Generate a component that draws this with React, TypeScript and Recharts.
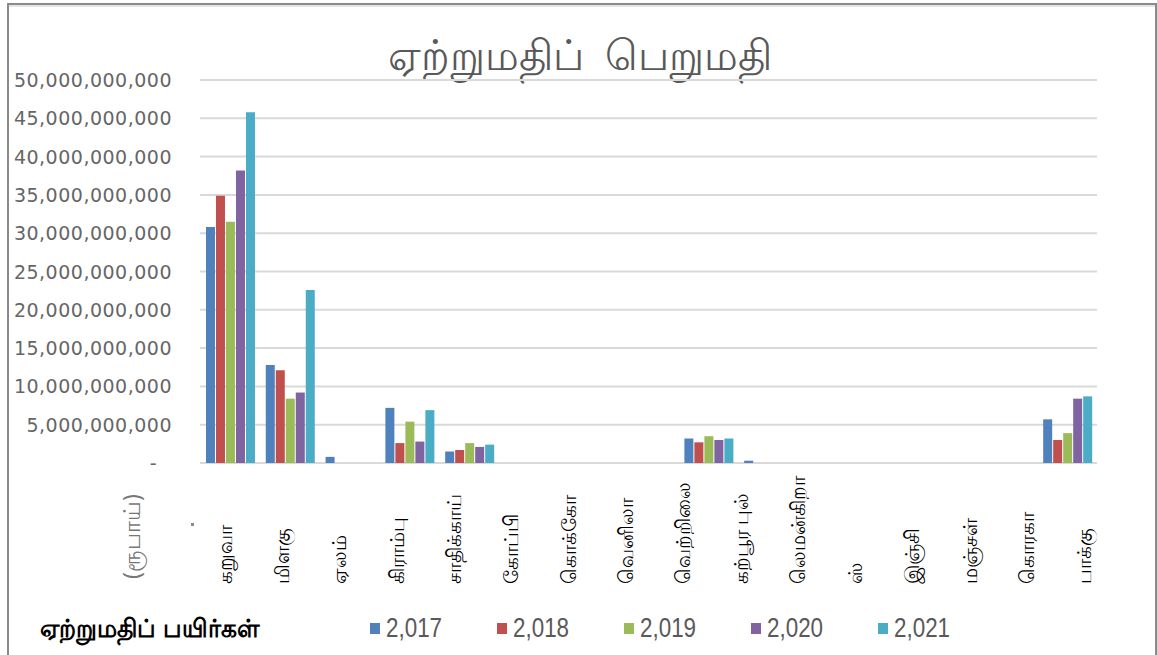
import React from 'react'
import { BarChart, Bar, XAxis, YAxis, CartesianGrid } from 'recharts'

// crops that carry the bars
const crops = [
  'கறுவா',
  'மிளகு',
  'ஏலம்',
  'கிராம்பு',
  'சாதிக்காய்',
  'கோப்பி',
  'கொக்கோ',
  'வெனிலா',
  'வெற்றிலை',
  'கற்பூர  புல்',
  'லெமன்கிறாஸ்',
  'இஞ்சி',
  'மஞ்சள்',
  'கொரகா',
  'பாக்கு',
]

// labels as printed under the axis (the last part of lemongrass got its own slot)
const axisLabels = [
  'கறுவா',
  'மிளகு',
  'ஏலம்',
  'கிராம்பு',
  'சாதிக்காய்',
  'கோப்பி',
  'கொக்கோ',
  'வெனிலா',
  'வெற்றிலை',
  'கற்பூர  புல்',
  'லெமன்கிறா',
  'ஸ்',
  'இஞ்சி',
  'மஞ்சள்',
  'கொரகா',
  'பாக்கு',
]

const years = ['2,017', '2,018', '2,019', '2,020', '2,021']
const colors = ['#4F81BD', '#C0504D', '#9BBB59', '#8064A2', '#4BACC6']

// values in rupees
const y2017 = [30.8e9, 12.8e9, 0.8e9, 7.2e9, 1.5e9, 0, 0, 0, 3.2e9, 0.3e9, 0, 0, 0, 0, 5.7e9]
const y2018 = [34.9e9, 12.1e9, 0, 2.6e9, 1.7e9, 0, 0, 0, 2.7e9, 0, 0, 0, 0, 0, 3.0e9]
const y2019 = [31.5e9, 8.4e9, 0, 5.4e9, 2.6e9, 0, 0, 0, 3.5e9, 0, 0, 0, 0, 0, 3.9e9]
const y2020 = [38.2e9, 9.2e9, 0, 2.8e9, 2.1e9, 0, 0, 0, 3.0e9, 0, 0, 0, 0, 0, 8.4e9]
const y2021 = [45.8e9, 22.6e9, 0, 6.9e9, 2.4e9, 0, 0, 0, 3.2e9, 0, 0, 0, 0, 0, 8.7e9]

const yTicks = [0, 5e9, 10e9, 15e9, 20e9, 25e9, 30e9, 35e9, 40e9, 45e9, 50e9]

const series = [y2017, y2018, y2019, y2020, y2021]
const data = crops.map((name, i) => {
  const row: Record<string, string | number> = { name, pos: i }
  years.forEach((yr, s) => {
    row[yr] = series[s][i]
  })
  return row
})
const labelTicks = axisLabels.map((_, i) => i)

const fmt = (v: number) => (v === 0 ? '-' : v.toLocaleString('en-US'))

const CropTick = (props: any) => {
  const { x, y, payload } = props
  return (
    <text
      transform={`translate(${x + 3},${y + 91}) rotate(-90)`}
      textAnchor="start"
      fontSize={20}
      fill="#000"
      fontFamily="'Noto Sans', sans-serif"
    >
      {axisLabels[payload.value]}
    </text>
  )
}

const ValueTick = (props: any) => {
  const { x, y, payload } = props
  const zero = payload.value === 0
  return (
    <text
      x={zero ? x - 15 : x}
      y={y}
      dy={7}
      textAnchor="end"
      fontSize={19}
      letterSpacing={0.5}
      fill="#666"
      fontFamily="'DejaVu Sans', sans-serif"
    >
      {fmt(payload.value)}
    </text>
  )
}

export default function App() {
  return (
    <div
      style={{
        position: 'absolute',
        left: 0,
        top: 0,
        width: 1157,
        height: 655,
        background: '#fff',
        overflow: 'hidden',
        fontFamily: "'Noto Sans', sans-serif",
      }}
    >
      <div
        style={{
          position: 'absolute',
          left: 7,
          top: 3,
          width: 1146,
          height: 660,
          borderLeft: '2px solid #8a8a8a',
          borderTop: '2px solid #8a8a8a',
          borderRight: '2px solid #8a8a8a',
          boxShadow: 'inset 0 2px 0 #e6e6e6',
        }}
      />
      <div
        style={{
          position: 'absolute',
          left: 0,
          width: 1160,
          top: 28,
          textAlign: 'center',
          fontSize: 42,
          color: '#595959',
          lineHeight: '52px',
        }}
      >
        ஏற்றுமதிப்&nbsp;&nbsp;பெறுமதி
      </div>

      <BarChart
        width={1157}
        height={655}
        data={data}
        margin={{ top: 80, right: 60, bottom: 62, left: 0 }}
        barCategoryGap="10%"
        barGap={1}
        style={{ position: 'absolute', left: 0, top: 0 }}
      >
        <CartesianGrid vertical={false} stroke="#d9d9d9" strokeWidth={2} />
        <XAxis dataKey="name" hide />
        <XAxis
          xAxisId="lbl"
          dataKey="pos"
          type="number"
          domain={[-0.5, 15.15]}
          allowDataOverflow
          ticks={labelTicks}
          height={130}
          interval={0}
          axisLine={false}
          tickLine={false}
          tickSize={0}
          tickMargin={0}
          tick={<CropTick />}
        />
        <YAxis
          width={200}
          domain={[0, 50e9]}
          ticks={yTicks}
          interval={0}
          axisLine={false}
          tickLine={false}
          tickSize={0}
          tickMargin={28}
          tick={<ValueTick />}
        />
        {years.map((yr, s) => (
          <Bar key={yr} dataKey={yr} fill={colors[s]} isAnimationActive={false} />
        ))}
      </BarChart>

      <div
        style={{
          position: 'absolute',
          left: 116,
          top: 579,
          transformOrigin: '0 0',
          transform: 'rotate(-90deg)',
          fontSize: 23,
          color: '#777',
          whiteSpace: 'nowrap',
          lineHeight: '30px',
        }}
      >
        (ரூபாய்)
      </div>
      <div
        style={{
          position: 'absolute',
          left: 191,
          top: 523,
          width: 3,
          height: 3,
          background: '#8a8a8a',
        }}
      />

      <div
        style={{
          position: 'absolute',
          left: 40,
          top: 611,
          fontSize: 25,
          fontWeight: 'bold',
          color: '#000',
          whiteSpace: 'nowrap',
          lineHeight: '32px',
        }}
      >
        ஏற்றுமதிப் பயிர்கள்
      </div>
      <div style={{ position: 'absolute', left: 370, top: 611, display: 'flex' }}>
        {years.map((yr, s) => (
          <div key={yr} style={{ display: 'flex', alignItems: 'center', width: 127, height: 34 }}>
            <span style={{ width: 10, height: 11, background: colors[s], marginRight: 6 }} />
            <span
              style={{
                fontFamily: "'Liberation Sans', sans-serif",
                fontSize: 28,
                color: '#595959',
                display: 'inline-block',
                transform: 'scaleX(0.8)',
                transformOrigin: '0 50%',
              }}
            >
              {yr}
            </span>
          </div>
        ))}
      </div>
    </div>
  )
}
